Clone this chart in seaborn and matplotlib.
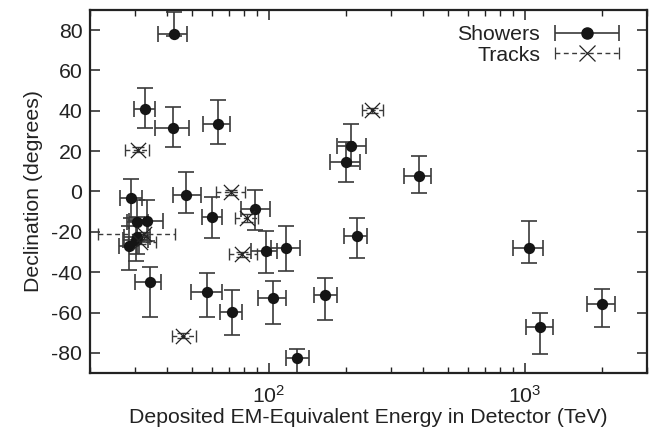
import numpy as np
import pandas as pd
import matplotlib
matplotlib.use("Agg")
import matplotlib.pyplot as plt
import seaborn as sns
from matplotlib.legend_handler import HandlerErrorbar
from matplotlib.ticker import NullFormatter, LogLocator, FixedLocator

# ---- Shower events ----
sh_energy = [47.6, 117, 165, 28.4, 34.3, 63.2, 97.2, 88.4, 104, 1041, 57.5, 30.6, 200,
             71.5, 1141, 30.2, 220, 30.5, 33.5, 210, 60.2, 32.7, 129, 42.5, 385, 42.1, 2004, 28.9]
sh_e_lo = [5.4, 15, 15, 2.5, 4.3, 8.0, 12.4, 10.7, 13, 144, 7.8, 3.5, 27,
           7.2, 133, 3.3, 24, 2.6, 5.0, 26, 5.6, 2.9, 12, 5.7, 49, 6.3, 262, 2.6]
sh_e_hi = [6.5, 15, 20, 2.7, 3.5, 7.1, 10.4, 12.5, 13, 132, 8.3, 3.6, 27,
           7.0, 143, 3.5, 21, 3.2, 4.9, 29, 5.6, 3.2, 14, 5.4, 46, 6.5, 236, 3.0]
sh_dec = [-1.8, -28.0, -51.2, -27.2, -45.1, 33.6, -29.4, -8.9, -52.8, -27.9, -49.7, -22.6, 14.5,
          -59.7, -67.2, -24.0, -22.1, -15.1, -14.5, 22.7, -12.6, 41.0, -82.7, 78.3, 7.8, 31.3, -55.8, -3.0]
sh_d_lo = [8.7, 11.4, 12.4, 11.5, 17.2, 10.0, 11.0, 10.3, 13.1, 7.8, 12.6, 8.2, 9.6,
           11.3, 13.3, 10.4, 10.8, 10.0, 10.0, 10.0, 10.7, 9.3, 7.3, 1.0, 8.7, 9.0, 11.5, 10.0]
sh_d_hi = [11.3, 11.0, 8.5, 10.0, 7.7, 11.9, 9.9, 9.6, 8.4, 13.4, 9.3, 10.0, 10.0,
           11.0, 7.2, 10.0, 8.8, 10.9, 10.3, 10.9, 10.0, 10.3, 4.5, 10.7, 10.0, 10.6, 7.4, 9.1]

# ---- Track events ----
tr_energy = [78.7, 71.4, 32.6, 253, 31.5, 82.2, 46.1, 30.8]
tr_e_lo = [8.7, 9.0, 11.1, 22, 3.3, 8.4, 4.4, 3.5]
tr_e_hi = [10.8, 9.0, 10.3, 26, 4.6, 8.6, 5.7, 3.3]
tr_dec = [-31.2, -0.4, -21.2, 40.3, -24.8, -13.2, -71.5, 20.7]
tr_d_err = [1.4, 1.2, 1.3, 1.2, 1.3, 1.9, 1.3, 1.2]

sns.set_theme(style="ticks")
plt.rcParams['font.family'] = ['Liberation Sans', 'DejaVu Sans']
plt.rcParams['mathtext.fontset'] = 'custom'
plt.rcParams['mathtext.rm'] = 'Liberation Sans'
plt.rcParams['mathtext.it'] = 'Liberation Sans'
plt.rcParams['axes.unicode_minus'] = False

FS = 15.3
fig = plt.figure(figsize=(6.57, 4.33), dpi=100)
ax = fig.add_axes([90/657, 1-373/433, (647-90)/657, (373-10)/433])

ecol = '#3a3a3a'
mcol = '#151515'

# error bars
ax.errorbar(sh_energy, sh_dec, xerr=[sh_e_lo, sh_e_hi], yerr=[sh_d_lo, sh_d_hi],
            fmt='none', ecolor=ecol, elinewidth=1.2, capsize=5.5, capthick=1.2, zorder=2)
eb_t = ax.errorbar(tr_energy, tr_dec, xerr=[tr_e_lo, tr_e_hi], yerr=[tr_d_err, tr_d_err],
                   fmt='none', ecolor=ecol, elinewidth=1.0, capsize=4, capthick=1.0, zorder=2)
eb_t[2][0].set_linestyle((0, (3.5, 2.5)))

df_s = pd.DataFrame({'E': sh_energy, 'dec': sh_dec})
df_t = pd.DataFrame({'E': tr_energy, 'dec': tr_dec})
sns.scatterplot(data=df_s, x='E', y='dec', ax=ax, marker='o', s=66, color=mcol,
                edgecolor=mcol, linewidth=0, zorder=3, legend=False)
sns.scatterplot(data=df_t, x='E', y='dec', ax=ax, marker='x', s=120, color='#222222',
                linewidth=0.9, zorder=3, legend=False)

# legend proxies
p_s = ax.errorbar([np.nan], [np.nan], xerr=[[np.nan], [np.nan]], fmt='o', ms=8,
                  color=mcol, ecolor=ecol, elinewidth=1.2, capsize=5.5, capthick=1.2,
                  label='Showers')
p_t = ax.errorbar([np.nan], [np.nan], xerr=[[np.nan], [np.nan]], fmt='x', ms=11, mew=0.9,
                  color='#222222', ecolor=ecol, elinewidth=1.0, capsize=4, capthick=1.0,
                  label='Tracks')
p_t[2][0].set_linestyle((0, (3.5, 2.5)))

HL = 3.0
leg = ax.legend(handles=[p_s, p_t], labels=['Showers', 'Tracks'], loc='upper right',
                frameon=False, markerfirst=False, fontsize=FS, handlelength=HL,
                handletextpad=0.7, labelspacing=0.07, borderaxespad=0.2, borderpad=0.1,
                bbox_to_anchor=(1 - 21.8/557, 1 - 9/363),
                handler_map={type(p_s): HandlerErrorbar(xerr_size=HL/2)})
for t in leg.get_texts():
    t.set_color('#222222')

ax.set_xscale('log')
ax.set_xlim(20, 3000)
ax.set_ylim(-90, 90)
ax.set_yticks([-80, -60, -40, -20, 0, 20, 40, 60, 80])
ax.xaxis.set_major_locator(FixedLocator([100, 1000]))
ax.xaxis.set_minor_locator(LogLocator(base=10, subs=np.arange(2, 10)))
ax.xaxis.set_minor_formatter(NullFormatter())

ax.tick_params(which='both', direction='in', top=True, right=True, colors='#222222',
               labelcolor='#222222', labelsize=FS)
ax.tick_params(which='major', length=7, width=1.1, pad=5.5)
ax.tick_params(axis='x', which='major', pad=8.5)
ax.tick_params(which='minor', length=4, width=1.0)
for sp in ax.spines.values():
    sp.set_linewidth(1.6)
    sp.set_color('#222222')

ax.set_xlabel('Deposited EM-Equivalent Energy in Detector (TeV)', fontsize=FS,
              color='#222222', labelpad=1)
ax.set_ylabel('Declination (degrees)', fontsize=FS, color='#222222', labelpad=6)

fig.savefig('out.png', dpi=100)
